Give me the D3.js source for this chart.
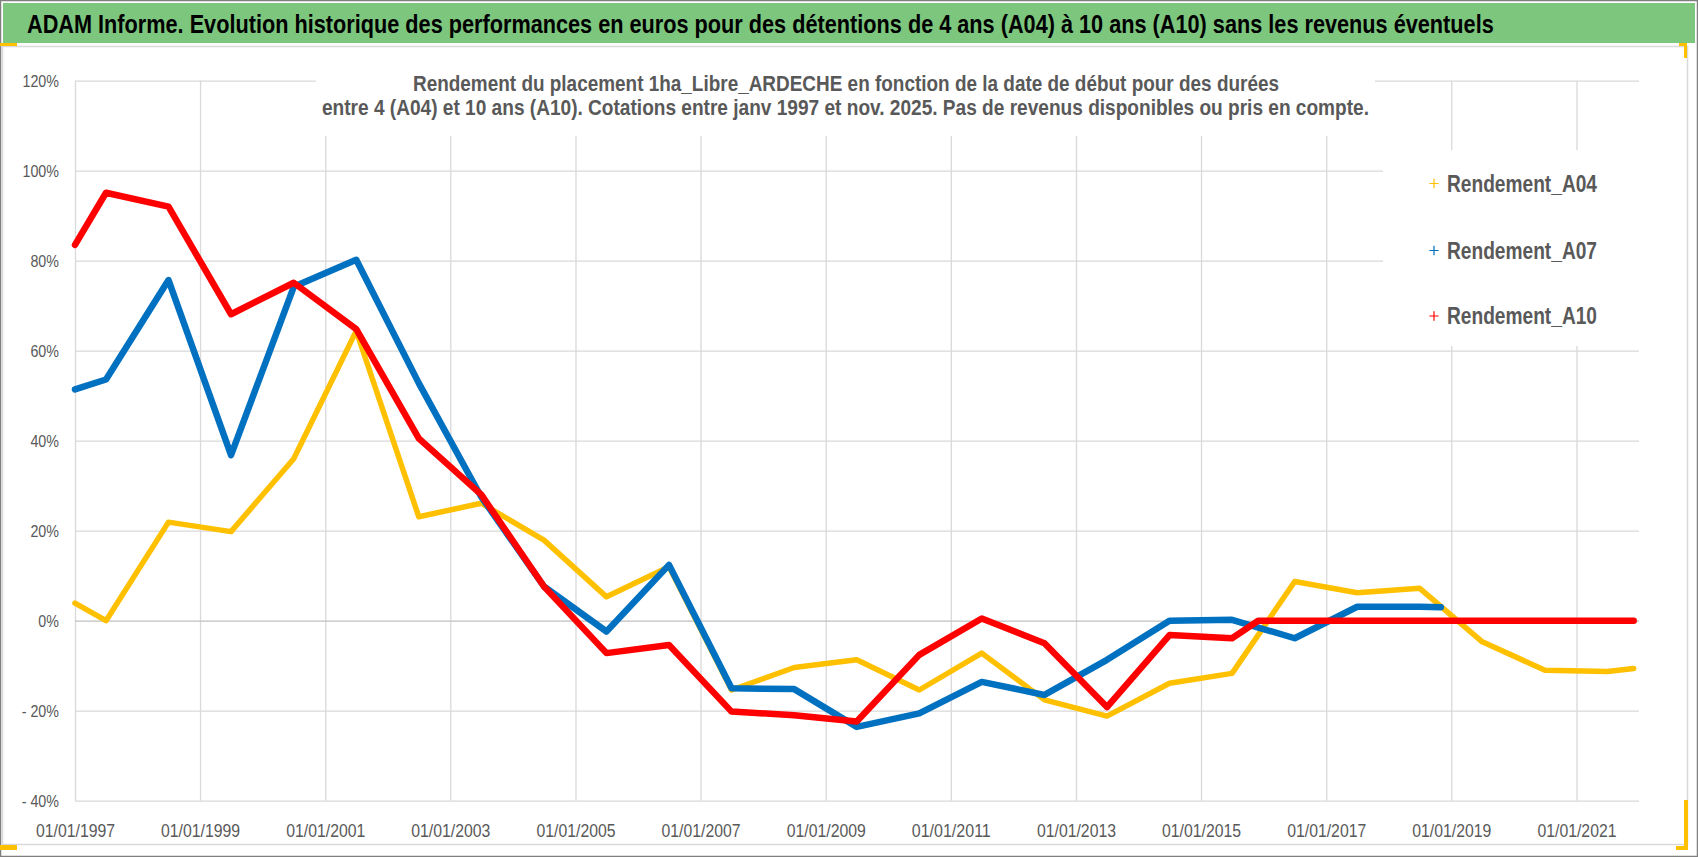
<html>
  <head>
    <meta charset="utf-8">
    <script src="https://d3js.org/d3.v7.min.js"></script>
    <style>
      body { margin: 0; background: #ffffff; }
      text { font-family: "Liberation Sans Narrow", "Arial Narrow", "Liberation Sans", sans-serif; }
    </style>
  </head>
  <body>
    <div id="chart"></div>
    <script>
      // dates of the series vertices (start dates of the holding period)
      const dates = [
        "1997-01-01", "1997-07-01", "1998-07-01", "1999-07-01", "2000-07-01",
        "2001-07-01", "2002-07-01", "2003-07-01", "2004-07-01", "2005-07-01",
        "2006-07-01", "2007-07-01", "2008-07-01", "2009-07-01", "2010-07-01",
        "2011-07-01", "2012-07-01", "2013-07-01", "2014-07-01", "2015-07-01",
        "2015-12-01", "2016-07-01", "2017-07-01", "2018-07-01", "2018-11-01",
        "2019-07-01", "2020-07-01", "2021-07-01", "2021-12-01"
      ];
      // returns in %, null = no vertex at that date
      const rendA04 = [
        3.9, 0, 21.9, 19.8, 36, 64.4, 23.1, 26.1, 17.9, 5.3,
        12, -15.4, -10.4, -8.7, -15.4, -7.2, -17.6, -21.2, -13.9, -11.7,
        null, 8.7, 6.2, 7.2, null, -4.7, -11, -11.3, -10.6
      ];
      const rendA07 = [
        51.4, 53.6, 75.7, 36.8, 74.2, 80.2, 52.8, 27.5, 7.6, -2.4,
        12.4, -15, -15.2, -23.6, -20.6, -13.6, -16.5, -8.7, 0, 0.2,
        null, -3.9, 3.1, 3.1, 3.0, null, null, null, null
      ];
      const rendA10 = [
        83.5, 95.1, 92, 68.1, 75.1, 64.8, 40.5, 28, 7.6, -7.2,
        -5.4, -20.2, -21, -22.4, -7.6, 0.5, -5, -19.2, -3.2, -3.9,
        0, 0, 0, 0, 0, 0, 0, 0, 0
      ];
      const seriesNames = ["Rendement_A04", "Rendement_A07", "Rendement_A10"];
      const seriesColors = ["#FFC000", "#0070C0", "#FF0000"];
      const yTicks = [-40, -20, 0, 20, 40, 60, 80, 100, 120];
      const xTickYears = [1997, 1999, 2001, 2003, 2005, 2007, 2009, 2011, 2013, 2015, 2017, 2019, 2021];

      const title = "ADAM Informe. Evolution historique des performances en euros pour des détentions de 4 ans (A04) à 10 ans (A10) sans les revenus éventuels";
      const subtitle = [
        "Rendement du placement 1ha_Libre_ARDECHE en fonction de la date de début pour des durées",
        "entre 4 (A04) et 10 ans (A10).  Cotations entre janv 1997 et nov. 2025. Pas de revenus disponibles ou pris en compte."
      ];

      const width = 1698;
      const height = 857;
      const margin = ({top: 80.7, right: 59, bottom: 56.3, left: 75});

      const parse = d3.timeParse("%Y-%m-%d");
      const dateValues = dates.map(parse);

      // squeeze a text to a narrow look (Calibri-like)
      function narrow(sel, factor) {
        sel.each(function() {
          const w = this.getComputedTextLength();
          d3.select(this).attr("textLength", w * factor).attr("lengthAdjust", "spacingAndGlyphs");
        });
      }

      const svg = d3.create("svg")
        .attr("width", width)
        .attr("height", height);
      document.getElementById("chart").appendChild(svg.node());

      // outer frame, header band, chart area
      svg.append("rect").attr("x", 0.5).attr("y", 0.5).attr("width", width - 1).attr("height", height - 1)
        .attr("fill", "#ffffff").attr("stroke", "#7f7f7f").attr("stroke-width", 1.5);
      svg.append("rect").attr("x", 3).attr("y", 3).attr("width", width - 6).attr("height", 40)
        .attr("fill", "#7dc67e");

      // header title, scaled horizontally to the reference width
      const titleText = svg.append("text")
        .attr("font-size", 25.6)
        .attr("font-weight", "bold")
        .attr("fill", "#000000")
        .text(title);
      const titleW = titleText.node().getComputedTextLength();
      titleText.attr("transform", `translate(27, 33.3) scale(${1467 / titleW}, 1)`);

      svg.append("rect").attr("x", 2.5).attr("y", 46.5).attr("width", 1685).attr("height", 798)
        .attr("fill", "#ffffff").attr("stroke", "#d9d9d9").attr("stroke-width", 1.5);

      // Excel selection handles
      const handles = [[0, 43, 17, 3], [1679, 43, 8, 3], [1684, 43, 3, 15], [1684, 800, 4, 50], [1676, 846, 12, 4], [0, 845, 17, 5]];
      svg.append("g").selectAll("rect").data(handles).join("rect")
        .attr("x", d => d[0]).attr("y", d => d[1]).attr("width", d => d[2]).attr("height", d => d[3])
        .attr("fill", "#ffc000");

      const xScale = d3.scaleTime()
        .domain([new Date(1997, 0, 1), new Date(2022, 0, 1)])
        .range([margin.left, 1639]);

      const yScale = d3.scaleLinear()
        .domain([-40, 120])
        .range([height - margin.bottom, margin.top]);

      const xTicks = xTickYears.map(y => new Date(y, 0, 1));

      // grid
      svg.append("g")
        .attr("transform", `translate(0, ${yScale(-40)})`)
        .call(d3.axisBottom(xScale).tickValues(xTicks).tickSize(-(yScale(-40) - yScale(120))).tickFormat(""))
        .call(g => g.select(".domain").remove())
        .call(g => g.selectAll("line").attr("stroke", "#d9d9d9").attr("stroke-width", 1.3));

      svg.append("g")
        .attr("transform", `translate(${margin.left}, 0)`)
        .call(d3.axisLeft(yScale).tickValues(yTicks).tickSize(-(1639 - margin.left)).tickFormat(""))
        .call(g => g.select(".domain").remove())
        .call(g => g.selectAll("line").attr("stroke", d => d === 0 ? "#bfbfbf" : "#d9d9d9").attr("stroke-width", 1.3));

      // white boxes behind the chart title and the legend
      svg.append("rect").attr("x", 316).attr("y", 60).attr("width", 1059).attr("height", 76).attr("fill", "#ffffff");
      svg.append("rect").attr("x", 1383).attr("y", 150).attr("width", 258).attr("height", 196).attr("fill", "#ffffff");

      // tick labels
      svg.append("g")
        .attr("transform", `translate(0, ${yScale(-40)})`)
        .call(d3.axisBottom(xScale).tickValues(xTicks).tickSize(0).tickPadding(0).tickFormat(d3.timeFormat("%d/%m/%Y")))
        .call(g => g.select(".domain").remove())
        .call(g => g.selectAll("text")
          .attr("dy", null)
          .attr("y", 36)
          .attr("font-family", null)
          .attr("font-size", 19)
          .attr("fill", "#595959")
          .attr("textLength", 79)
          .attr("lengthAdjust", "spacingAndGlyphs"));

      svg.append("g")
        .attr("transform", `translate(59, 0)`)
        .call(d3.axisLeft(yScale).tickValues(yTicks).tickSize(0).tickPadding(0)
          .tickFormat(d => d < 0 ? "- " + Math.abs(d) + "%" : d + "%"))
        .call(g => g.select(".domain").remove())
        .call(g => g.selectAll("text")
          .attr("font-family", null)
          .attr("font-size", 17)
          .attr("fill", "#595959")
          .call(narrow, 0.84));

      // chart title
      svg.append("g").selectAll("text").data(subtitle).join("text")
        .attr("x", (d, i) => i === 0 ? 846 : 845.5)
        .attr("y", (d, i) => i === 0 ? 90.7 : 115)
        .attr("text-anchor", "middle")
        .attr("font-size", 22)
        .attr("font-weight", "bold")
        .attr("fill", "#595959")
        .attr("textLength", (d, i) => i === 0 ? 866 : 1047)
        .attr("lengthAdjust", "spacingAndGlyphs")
        .text(d => d);

      // series
      const allSeries = [rendA04, rendA07, rendA10].map((values, i) => ({
        name: seriesNames[i],
        color: seriesColors[i],
        points: values.map((v, j) => ({date: dateValues[j], value: v})).filter(p => p.value !== null)
      }));

      const line = d3.line()
        .x(d => xScale(d.date))
        .y(d => yScale(d.value));

      svg.append("g").selectAll("path").data(allSeries).join("path")
        .attr("fill", "none")
        .attr("stroke", d => d.color)
        .attr("stroke-width", (d, i) => i === 0 ? 5.5 : 6.5)
        .attr("stroke-linejoin", "round")
        .attr("stroke-linecap", "round")
        .attr("d", d => line(d.points));

      // legend
      const legend = svg.append("g").selectAll("g").data(allSeries).join("g")
        .attr("transform", (d, i) => `translate(1434, ${[183.5, 250.5, 316][i]})`);
      legend.append("path")
        .attr("d", d3.symbol(d3.symbolPlus, 30))
        .attr("fill", "none")
        .attr("stroke", d => d.color)
        .attr("stroke-width", 1.2);
      legend.append("text")
        .attr("x", 13).attr("y", 8.3)
        .attr("font-size", 23)
        .attr("font-weight", "bold")
        .attr("fill", "#595959")
        .attr("textLength", 150)
        .attr("lengthAdjust", "spacingAndGlyphs")
        .text(d => d.name);
    </script>
  </body>
</html>
